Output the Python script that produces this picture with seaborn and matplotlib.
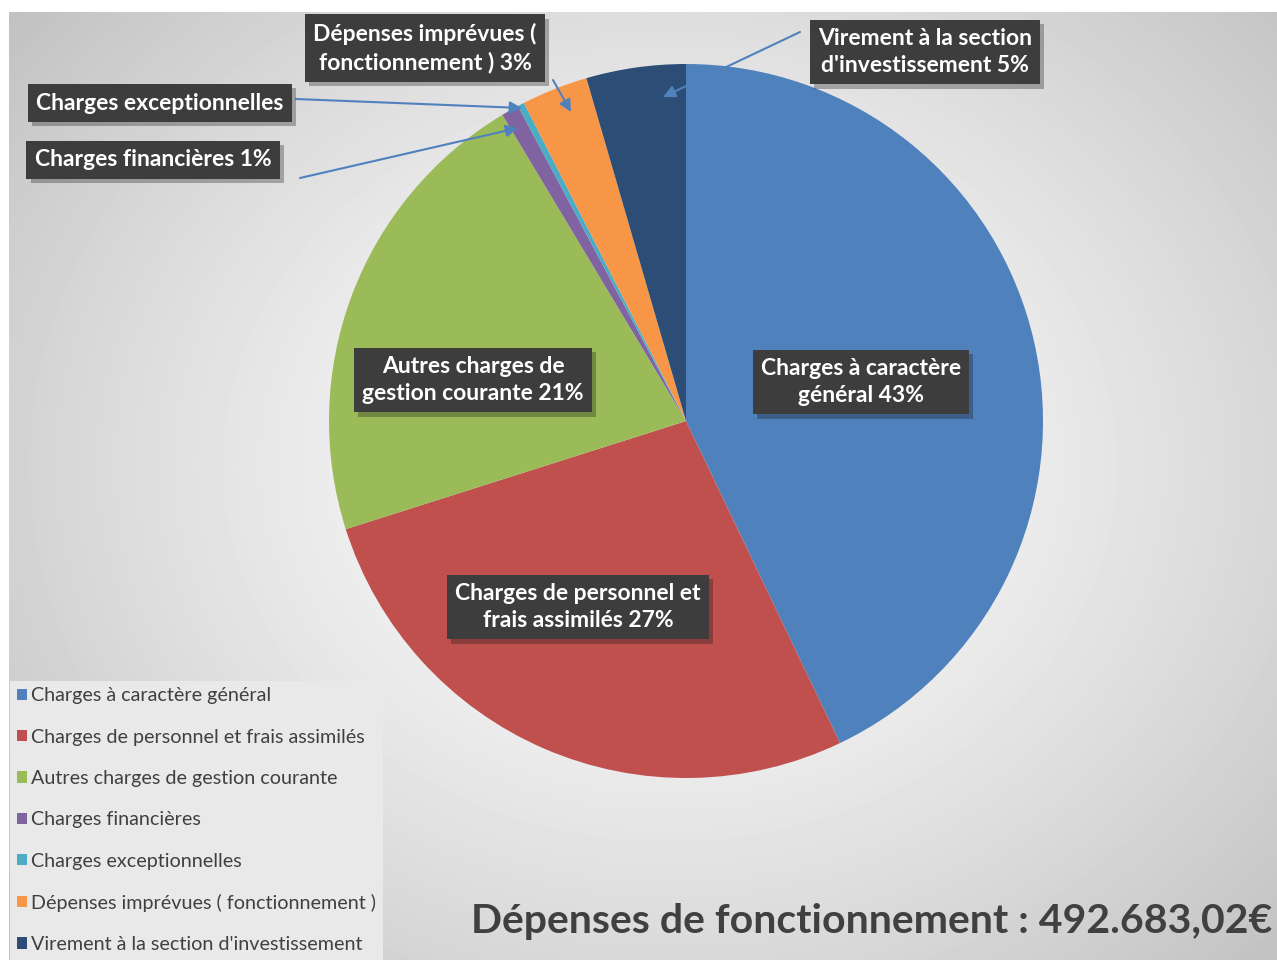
import numpy as np
import matplotlib
matplotlib.use("Agg")
import matplotlib.pyplot as plt
import matplotlib.patheffects as pe
import seaborn as sns

# data
categories = [
    "Charges à caractère général",
    "Charges de personnel et frais assimilés",
    "Autres charges de gestion courante",
    "Charges financières",
    "Charges exceptionnelles",
    "Dépenses imprévues ( fonctionnement )",
    "Virement à la section d'investissement",
]
shares = [42.9, 27.2, 21.3, 0.8, 0.3, 3.0, 4.5]
slice_labels = [
    "Charges à caractère\ngénéral 43%",
    "Charges de personnel et\nfrais assimilés 27%",
    "Autres charges de\ngestion courante 21%",
    "Charges financières 1%",
    "Charges exceptionnelles",
    "Dépenses imprévues (\nfonctionnement ) 3%",
    "Virement à la section\nd'investissement 5%",
]
colors = ["#4F81BD", "#C0504D", "#9BBB59", "#8064A2", "#4BACC6", "#F79646", "#2C4D75"]
title = "Dépenses de fonctionnement : 492.683,02€"

sns.set_theme(style="white")
plt.rcParams["font.family"] = ["Lato", "DejaVu Sans"]

W, H = 1277, 960
fig = plt.figure(figsize=(W / 100, H / 100), dpi=100)
fig.patch.set_facecolor("white")

# background gradient
bg = fig.add_axes([9 / W, 0, 1 - 9 / W, 1 - 12 / H])
yy, xx = np.mgrid[0:200, 0:260]
r = np.sqrt(((xx - 135) / 150.0) ** 2 + ((yy - 95) / 130.0) ** 2)
shade = 1.0 - 0.2 * np.clip(r, 0, 1.25) ** 1.3
bg.imshow(shade, cmap="gray", vmin=0, vmax=1, aspect="auto", interpolation="bicubic")
bg.set_axis_off()

ax = fig.add_axes([0, 0, 1, 1])
ax.patch.set_alpha(0)

def Y(y):
    return H - y

wedges, _ = ax.pie(shares, colors=colors, startangle=90, counterclock=False,
                   center=(686, Y(421)), radius=357,
                   wedgeprops=dict(linewidth=0))
ax.set_xlim(0, W)
ax.set_ylim(0, H)
ax.set_aspect("equal")
ax.set_axis_off()

label_pos = [(861, 382), (578, 607), (473, 380), (153, 160), (160, 103), (425, 48), (925, 52)]
arrow_to = [None, None, None, (518, 128), (522, 108), (571, 112), (663, 97)]
arrow_from = [None, None, None, (300, 178), (296, 99), (553, 80), (800, 32)]

for lab, (x, y), src, dst in zip(slice_labels, label_pos, arrow_from, arrow_to):
    if dst is not None:
        ax.annotate("", xy=(dst[0], Y(dst[1])), xytext=(src[0], Y(src[1])),
                    arrowprops=dict(arrowstyle="-|>,head_length=0.6,head_width=0.3",
                                    color="#4F81BD", lw=1.5, shrinkA=0, shrinkB=0))
    t = ax.text(x, Y(y), lab, ha="center", va="center", fontsize=16.5,
                fontweight="bold", color="white", linespacing=1.38,
                bbox=dict(boxstyle="square,pad=0.36", fc="#3d3d3d", ec="none"))
    t.get_bbox_patch().set_path_effects(
        [pe.SimplePatchShadow(offset=(3, -3), alpha=0.3), pe.Normal()])

leg = ax.legend(wedges, categories, loc="lower left",
                bbox_to_anchor=(10 / W, 0.0), bbox_transform=fig.transFigure,
                frameon=True, fancybox=False, facecolor="#e9e9e9", edgecolor="none",
                framealpha=1, fontsize=14.2, handlelength=0.5, handleheight=0.5,
                handletextpad=0.2, labelspacing=1.23, borderpad=0.35, borderaxespad=0)
for t in leg.get_texts():
    t.set_color("#404040")

fig.text(1272 / W, Y(922) / H, title, ha="right", va="center", fontsize=29.5,
         fontweight="bold", color="#404040")

fig.savefig("out.png", dpi=100)
